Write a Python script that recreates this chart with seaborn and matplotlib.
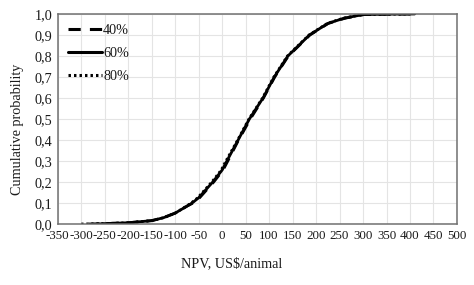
import pandas as pd
import matplotlib
matplotlib.use('Agg')
import matplotlib.pyplot as plt
import seaborn as sns

# Cumulative distribution of NPV, one list per scenario
npv_40 = [-285, -250, -200, -150, -125, -100, -75, -62, -48, -18, 2, 12, 35, 60, 88, 112, 141, 187, 226, 262, 302, 352, 400]
cum_40 = [0.000, 0.002, 0.006, 0.016, 0.030, 0.052, 0.085, 0.100, 0.125, 0.200, 0.257, 0.300, 0.400, 0.500, 0.600, 0.700, 0.800, 0.900, 0.955, 0.980, 0.997, 0.999, 1.000]

npv_60 = [-265, -250, -200, -150, -125, -100, -75, -64, -50, -20, 0, 10, 34, 58, 87, 111, 140, 186, 225, 260, 300, 350, 410]
cum_60 = [0.000, 0.002, 0.006, 0.016, 0.030, 0.052, 0.085, 0.100, 0.125, 0.200, 0.257, 0.300, 0.400, 0.500, 0.600, 0.700, 0.800, 0.900, 0.955, 0.980, 0.997, 0.999, 1.000]

npv_80 = [-300, -250, -200, -150, -125, -100, -76, -66, -52, -22, -2, 8, 33, 57, 86, 110, 139, 185, 224, 258, 298, 348, 405]
cum_80 = [0.000, 0.002, 0.006, 0.016, 0.030, 0.052, 0.085, 0.100, 0.125, 0.200, 0.257, 0.300, 0.400, 0.500, 0.600, 0.700, 0.800, 0.900, 0.955, 0.980, 0.997, 0.999, 1.000]

scenarios = ['40%', '60%', '80%']

x_ticks = list(range(-350, 501, 50))
y_ticks = [0.0, 0.1, 0.2, 0.3, 0.4, 0.5, 0.6, 0.7, 0.8, 0.9, 1.0]
y_labels = ['0,0', '0,1', '0,2', '0,3', '0,4', '0,5', '0,6', '0,7', '0,8', '0,9', '1,0']

df = pd.concat([
    pd.DataFrame({'NPV': npv_40, 'prob': cum_40, 'scenario': '40%'}),
    pd.DataFrame({'NPV': npv_60, 'prob': cum_60, 'scenario': '60%'}),
    pd.DataFrame({'NPV': npv_80, 'prob': cum_80, 'scenario': '80%'}),
], ignore_index=True)

sns.set_theme(style='whitegrid')
plt.rcParams['font.family'] = ['Liberation Serif', 'DejaVu Serif']
plt.rcParams['text.color'] = '#1a1a1a'

fs = 10.2
fig = plt.figure(figsize=(4.74, 2.85), dpi=100)
ax = fig.add_axes([0.122, 0.214, 0.842, 0.737])

ax = sns.lineplot(data=df, x='NPV', y='prob', hue='scenario', style='scenario',
                  hue_order=scenarios, style_order=scenarios,
                  palette=['black', 'black', 'black'],
                  dashes={'40%': (4.0, 3.0), '60%': '', '80%': (0.8, 1.0)},
                  linewidth=2.0, estimator=None, sort=True, ax=ax)

ax.set_xlim(-350, 500)
ax.set_ylim(0, 1)
ax.set_xticks(x_ticks)
ax.set_xticklabels([str(v) for v in x_ticks], fontsize=9.4, color='#1a1a1a')
ax.set_yticks(y_ticks)
ax.set_yticklabels(y_labels, fontsize=fs, color='#1a1a1a')
ax.tick_params(axis='both', length=0, pad=4)

ax.grid(True, color='#e4e4e4', linewidth=0.8)
for s in ax.spines.values():
    s.set_visible(True)
    s.set_color('#707070')
    s.set_linewidth(1.1)

ax.set_xlabel('NPV, US$/animal', fontsize=fs, color='#1a1a1a')
ax.xaxis.set_label_coords(0.436, -0.16)
ax.set_ylabel('Cumulative probability', fontsize=fs, color='#1a1a1a')
ax.yaxis.set_label_coords(-0.085, 0.45)

leg = ax.legend(loc='upper left', frameon=False, fontsize=fs,
                handlelength=2.4, handletextpad=0.1, labelspacing=0.7,
                borderaxespad=0.3)
for line in leg.get_lines():
    line.set_linewidth(2.2)

fig.savefig('out.png', dpi=100)
